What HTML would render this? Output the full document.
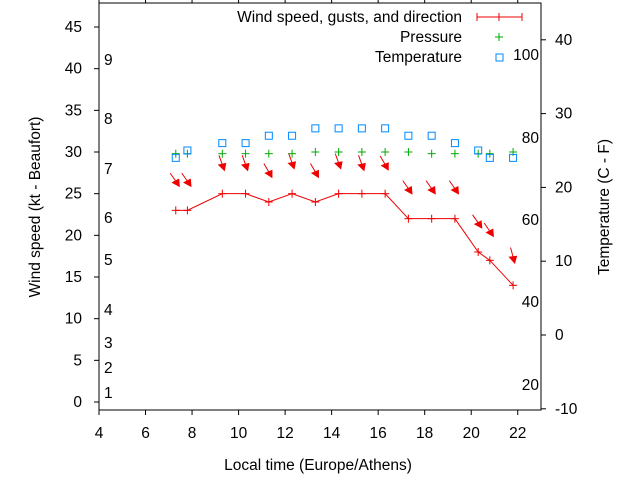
<!DOCTYPE html>
<html><head><meta charset="utf-8"><style>
body{margin:0;background:#fff;}
svg text{font-family:"Liberation Sans",sans-serif;font-size:15.5px;fill:#000;}
</style></head><body>
<svg id="chart" width="640" height="480"></svg>
<script>
const hours=[7.3,7.8,9.3,10.3,11.3,12.3,13.3,14.3,15.3,16.3,17.3,18.3,19.3,20.3,20.8,21.8];
const windSpeed=[23,23,25,25,24,25,24,25,25,25,22,22,22,18,17,14];
const windGust=[26.5,26.5,28.5,28.5,27.6,28.7,27.6,28.7,28.5,28.5,25.6,25.6,25.6,21.5,20.5,17.4];
const windDir=[325,325,340,340,330,340,330,340,340,330,325,325,325,325,325,345];
const pressure=[29.8,29.8,29.8,29.8,29.8,29.8,30,30,30,30,30,29.8,29.8,29.8,29.8,30];
const temperature=[24,25,26,26,27,27,28,28,28,28,27,27,26,25,24,24];
const xTicks=[4,6,8,10,12,14,16,18,20,22];
const yTicks=[0,5,10,15,20,25,30,35,40,45];
const y2Ticks=[-10,0,10,20,30,40];
const beaufort=[[1,393],[2,368],[3,343],[4,310],[5,260],[6,218],[7,169],[8,119],[9,60]];
const fahr=[[20,385],[40,302],[60,220],[80,138],[100,55]];

const L=99,R=541,T=3,B=410;
const xs=v=>L+(v-4)*(R-L)/19;
const ys=v=>402-v*8.333;
const y2=v=>335-v*7.38;
const svg=document.getElementById('chart');
const NS='http://www.w3.org/2000/svg';
function mk(tag,attrs,parent){const e=document.createElementNS(NS,tag);for(const k in attrs)e.setAttribute(k,attrs[k]);(parent||svg).appendChild(e);return e;}
function txt(x,y,s,anchor){const t=mk('text',{x:x,y:y,'text-anchor':anchor||'start'});t.textContent=s;return t;}

let e=mk('rect',{x:L,y:T,width:R-L,height:B-T,fill:'none',stroke:'#000','stroke-width':1});


xTicks.forEach(v=>{
  const x=xs(v);
  mk('line',{x1:x,y1:B,x2:x,y2:B+5,stroke:'#000'});
  mk('line',{x1:x,y1:T,x2:x,y2:T-5,stroke:'#000'});
  const t=txt(x,438,String(v),'middle');
  
  
});
yTicks.forEach(v=>{
  const y=ys(v);
  mk('line',{x1:L,y1:y,x2:L-5,y2:y,stroke:'#000'});
  const t=txt(82,y+5,String(v),'end');
  
  
});
y2Ticks.forEach(v=>{
  const y=y2(v);
  mk('line',{x1:R,y1:y,x2:R+5,y2:y,stroke:'#000'});
  const t=txt(555,y+5,String(v),'start');
  
  
});
beaufort.forEach(b=>{
  const t=txt(104,b[1]+5,String(b[0]));
  
  
});
fahr.forEach(f=>{
  const t=txt(539,f[1]+5,String(f[0]),'end');
  
  
});

e=txt(318,470,'Local time (Europe/Athens)','middle');


e=txt(0,0,'Wind speed (kt - Beaufort)','middle');e.setAttribute('transform','translate(40,207) rotate(-90)');


e=txt(0,0,'Temperature (C - F)','middle');e.setAttribute('transform','translate(609,207) rotate(-90)');



let pts=hours.map((h,i)=>xs(h)+','+ys(windSpeed[i])).join(' ');
e=mk('polyline',{points:pts,fill:'none',stroke:'#e00',"stroke-width":1});


function plus(x,y,c,name){const g=mk('g',{stroke:c,'stroke-width':1});mk('line',{x1:x-4,y1:y,x2:x+4,y2:y},g);mk('line',{x1:x,y1:y-4,x2:x,y2:y+4},g);return g;}
hours.forEach((h,i)=>plus(xs(h),ys(windSpeed[i]),'#e00','wind-point'));
hours.forEach((h,i)=>plus(xs(h),ys(pressure[i]),'#0a0','pressure-point'));
hours.forEach((h,i)=>{
  const r=mk('rect',{x:xs(h)-3.5,y:y2(temperature[i])-3.5,width:7,height:7,fill:'none',stroke:'#08f','stroke-width':1});
  
  
});
hours.forEach((h,i)=>{
  const x=xs(h),y=ys(windGust[i]);
  const a=(windDir[i]+180)*Math.PI/180;
  const dx=Math.sin(a),dy=-Math.cos(a);
  const len=14;
  const x0=x-dx*len*0.7,y0=y-dy*len*0.7,x1=x+dx*len*0.3,y1=y+dy*len*0.3;
  const g=mk('g',{});
  
  
  mk('line',{x1:x0,y1:y0,x2:x1,y2:y1,stroke:'#e00','stroke-width':1},g);
  const px=-dy,py=dx;
  mk('polygon',{points:`${x1+dx*2},${y1+dy*2} ${x1-dx*5+px*3.5},${y1-dy*5+py*3.5} ${x1-dx*4-px*3.5},${y1-dy*4-py*3.5}`,fill:'#e00',stroke:'#e00','stroke-width':1},g);
});
const lg=mk('g',{});


e=txt(462,22,'Wind speed, gusts, and direction','end');lg.appendChild(e);


mk('line',{x1:477,y1:17,x2:522,y2:17,stroke:'#e00'},lg);
[477,499,522].forEach(x=>mk('line',{x1:x,y1:13,x2:x,y2:21,stroke:'#e00'},lg));
e=txt(462,42,'Pressure','end');lg.appendChild(e);


lg.appendChild(plus(499,37,'#0a0','legend-pressure-marker'));
e=txt(462,62,'Temperature','end');lg.appendChild(e);


mk('rect',{x:496,y:54,width:7,height:7,fill:'none',stroke:'#08f'},lg);
</script>
</body></html>
